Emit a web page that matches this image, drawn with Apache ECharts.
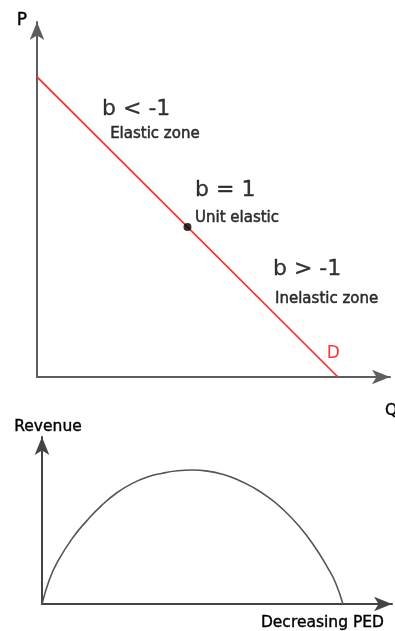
<!DOCTYPE html>
<html>
<head>
<meta charset="utf-8">
<script src="https://cdn.jsdelivr.net/npm/echarts@6/dist/echarts.min.js"></script>
<style>
  html, body { margin: 0; padding: 0; background: #fff; }
  #chart { width: 395px; height: 631px; }
</style>
</head>
<body>
<div id="chart"></div>
<script>
// Linear demand curve: quantity and price
const demandQ = [0, 10];
const demandP = [10, 0];
// Point of unit elasticity (mid-point of the demand line)
const unitQ = 5;
const unitP = 5;
// Total revenue as price elasticity of demand decreases
const revenueX = [0, 0.25, 0.5, 1, 1.5, 2, 2.5, 3, 3.5, 4, 4.5, 5, 5.5, 6, 6.5, 7, 7.5, 8, 8.5, 9, 9.5, 9.75, 10];
const revenueY = [0, 4.6, 7.7, 12.2, 15.6, 18.5, 20.8, 22.5, 23.7, 24.4, 24.85, 25, 24.8, 24.2, 23.2, 21.8, 20, 17.7, 14.8, 11.2, 6.7, 4.0, 0];
// Annotation texts on the demand diagram
const noteTexts = ['b < -1', 'Elastic zone', 'b = 1', 'Unit elastic', 'b > -1', 'Inelastic zone', 'D'];
const axisNames = { price: 'P', quantity: 'Q', revenue: 'Revenue', ped: 'Decreasing PED' };

// ---- layout & styling ----
const FONT = 'DejaVu Sans';
// anchor of each note, in demand-diagram units
const noteAt = [[2.16, 8.93], [2.43, 8.08], [5.25, 6.22], [5.25, 5.31], [7.84, 3.59], [7.91, 2.58], [9.63, 0.77]];
const noteKind = ['big', 'small', 'big', 'small', 'big', 'small', 'curve'];
const noteStyle = {
  big:   { fontSize: 22, color: '#000', border: 0.3 },
  small: { fontSize: 15, color: '#000', border: 0.5 },
  curve: { fontSize: 17, color: '#ff0000', border: 0 }
};
const nameStyle = { fontFamily: FONT, color: '#000', textBorderColor: '#000', textBorderWidth: 0.4 };

function hiddenAxisParts(o) {
  return Object.assign({
    splitLine: { show: false },
    axisTick: { show: false },
    axisLabel: { show: false }
  }, o);
}
function arrowLine(color) {
  return {
    show: true,
    onZero: false,
    symbol: ['none', 'arrow'],
    symbolSize: [11, 18],
    lineStyle: { color: color, width: 2 }
  };
}

const chart = echarts.init(document.getElementById('chart'), null, { renderer: 'canvas' });

chart.setOption({
  animation: false,
  backgroundColor: '#fff',
  textStyle: { fontFamily: FONT },
  grid: [
    { left: 37, top: 22, right: 5, bottom: 254, containLabel: false, outerBoundsMode: 'none' },
    { left: 42, top: 437, right: 3, bottom: 27, containLabel: false, outerBoundsMode: 'none' }
  ],
  xAxis: [
    hiddenAxisParts({
      gridIndex: 0, type: 'value', min: 0, max: 11.73,
      axisLine: arrowLine('#5e5e5e'),
      name: axisNames.quantity, nameLocation: 'end', nameGap: -5,
      nameTextStyle: Object.assign({ fontSize: 16, align: 'left', verticalAlign: 'top', padding: [26, 0, 0, 0] }, nameStyle)
    }),
    hiddenAxisParts({
      gridIndex: 1, type: 'value', min: 0, max: 11.63,
      axisLine: arrowLine('#444'),
      name: axisNames.ped, nameLocation: 'end', nameGap: 0,
      nameTextStyle: Object.assign({ fontSize: 15.5, align: 'right', verticalAlign: 'top', padding: [11, 8, 0, 0] }, nameStyle)
    })
  ],
  yAxis: [
    hiddenAxisParts({
      gridIndex: 0, type: 'value', min: 0, max: 11.83,
      axisLine: arrowLine('#5e5e5e'),
      name: axisNames.price, nameLocation: 'end', nameGap: 1,
      nameTextStyle: Object.assign({ fontSize: 17, align: 'right', verticalAlign: 'middle', padding: [0, 10, 0, 0] }, nameStyle)
    }),
    hiddenAxisParts({
      gridIndex: 1, type: 'value', min: 0, max: 31.16,
      axisLine: arrowLine('#444'),
      name: axisNames.revenue, nameLocation: 'end', nameGap: 10,
      nameTextStyle: Object.assign({ fontSize: 15.5, align: 'center', verticalAlign: 'middle', padding: [0, 0, 0, 12] }, nameStyle)
    })
  ],
  series: [
    {
      type: 'line', xAxisIndex: 0, yAxisIndex: 0,
      data: demandQ.map((q, i) => [q, demandP[i]]),
      symbol: 'none', silent: true,
      lineStyle: { color: '#ff2a2a', width: 1.7 },
      z: 3
    },
    {
      type: 'scatter', xAxisIndex: 0, yAxisIndex: 0,
      data: [[unitQ, unitP]],
      symbol: 'circle', symbolSize: 8,
      itemStyle: { color: '#000' },
      silent: true, z: 5
    },
    {
      type: 'scatter', xAxisIndex: 0, yAxisIndex: 0,
      symbolSize: 0, silent: true, z: 6,
      data: noteTexts.map((t, i) => {
        const st = noteStyle[noteKind[i]];
        return {
          name: t,
          value: noteAt[i],
          label: {
            show: true,
            formatter: '{b}',
            position: [0, 0],
            align: 'left',
            verticalAlign: 'middle',
            fontFamily: FONT,
            fontSize: st.fontSize,
            color: st.color,
            textBorderColor: st.color,
            textBorderWidth: st.border
          }
        };
      })
    },
    {
      type: 'line', xAxisIndex: 1, yAxisIndex: 1,
      data: revenueX.map((x, i) => [x, revenueY[i]]),
      symbol: 'none', smooth: 0.5, silent: true,
      lineStyle: { color: '#555', width: 1.6 },
      z: 3
    }
  ]
});
</script>
</body>
</html>
